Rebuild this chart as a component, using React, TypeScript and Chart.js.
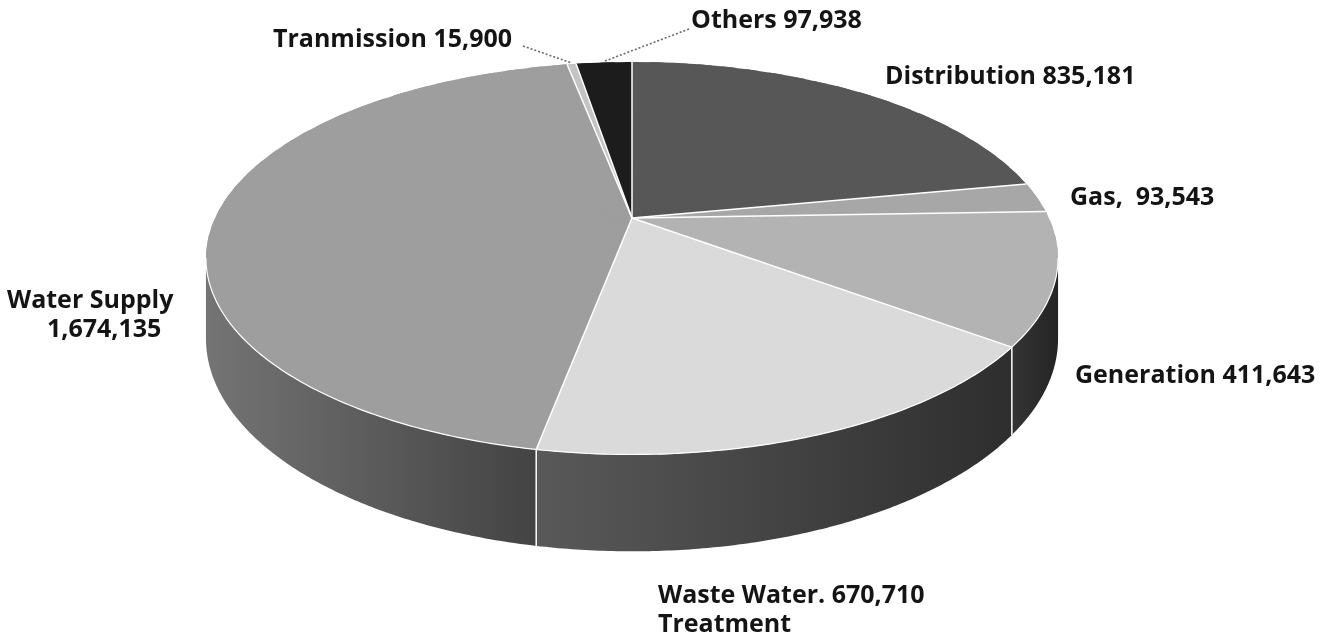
import React, { useEffect, useRef } from "react";
import { Chart, registerables } from "chart.js";

Chart.register(...registerables);

// ---------- data ----------
const categories = [
  "Distribution",
  "Gas",
  "Generation",
  "Waste Water Treatment",
  "Water Supply",
  "Tranmission",
  "Others",
];
const values = [835181, 93543, 411643, 670710, 1674135, 15900, 97938];
const labelLines = [
  ["Distribution {v}"],
  ["Gas,  {v}"],
  ["Generation {v}"],
  ["Waste Water. {v}", "Treatment"],
  ["Water Supply", "{v}"],
  ["Tranmission {v}"],
  ["Others {v}"],
];

// ---------- styles ----------
const topColors = ["#575757", "#a7a7a7", "#b3b3b3", "#dadada", "#9e9e9e", "#c4c4c4", "#1c1c1c"];
const wallColors = [
  ["#3a3a3a", "#2a2a2a"],
  ["#6a6a6a", "#555555"],
  ["#343434", "#242424"],
  ["#595959", "#2e2e2e"],
  ["#747474", "#434343"],
  ["#7a7a7a", "#5a5a5a"],
  ["#1a1a1a", "#111111"],
];
// label placement: x, baseline y, per-line x offsets, optional leader start
const labelLayout = [
  { x: 885, y: 84, dx: [0] },
  { x: 1070, y: 205, dx: [0] },
  { x: 1075, y: 383, dx: [0] },
  { x: 658, y: 603, dx: [0, 0] },
  { x: 7, y: 308, dx: [0, 40] },
  { x: 273, y: 47, dx: [0], leader: [523, 46] },
  { x: 691, y: 28, dx: [0], leader: [689, 29] },
];
const FONT = "bold 25px 'Open Sans', 'Noto Sans', sans-serif";
const LINE_H = 29;

// perspective projection of the pie disc
const CX = 632;
const CY = 218;
const SX = 417;
const SY = 188;
const K = 0.205;
const DEPTH = 77;

function proj(phi: number) {
  const u = Math.cos(phi);
  const v = Math.sin(phi);
  const w = 1 - K * v;
  return { x: CX + (SX * u) / w, y: CY + (SY * v) / w, w };
}

const fmt = (n: number) => n.toLocaleString("en-US");

const pie3d = {
  id: "pie3d",
  beforeDatasetsDraw(chart: any) {
    const ctx: CanvasRenderingContext2D = chart.ctx;
    const arcs = chart.getDatasetMeta(0).data as any[];
    if (!arcs.length) return false;
    const { x: ex, y: ey, outerRadius: R } = arcs[0].getProps(["x", "y", "outerRadius"], true);

    // ---- side walls ----
    const phiR = Math.asin(K);
    const phiL = Math.PI - phiR;
    arcs.forEach((arc: any, i: number) => {
      const { startAngle, endAngle } = arc.getProps(["startAngle", "endAngle"], true);
      const a = Math.max(startAngle, phiR);
      const b = Math.min(endAngle, phiL);
      if (b <= a) return;
      const n = Math.max(2, Math.ceil((b - a) / (Math.PI / 360)));
      ctx.save();
      ctx.beginPath();
      for (let j = 0; j <= n; j++) {
        const p = proj(a + ((b - a) * j) / n);
        if (j === 0) ctx.moveTo(p.x, p.y);
        else ctx.lineTo(p.x, p.y);
      }
      for (let j = n; j >= 0; j--) {
        const p = proj(a + ((b - a) * j) / n);
        ctx.lineTo(p.x, p.y + DEPTH / p.w);
      }
      ctx.closePath();
      const xl = proj(b).x;
      const xr = proj(a).x;
      const g = ctx.createLinearGradient(xl, 0, xr, 0);
      g.addColorStop(0, wallColors[i][0]);
      g.addColorStop(1, wallColors[i][1]);
      ctx.fillStyle = g;
      ctx.fill();
      ctx.restore();
    });
    // wall separators
    ctx.save();
    ctx.strokeStyle = "#ffffff";
    ctx.lineWidth = 1.5;
    arcs.forEach((arc: any) => {
      const { startAngle } = arc.getProps(["startAngle"], true);
      if (startAngle > phiR && startAngle < phiL) {
        const p = proj(startAngle);
        ctx.beginPath();
        ctx.moveTo(p.x, p.y);
        ctx.lineTo(p.x, p.y + DEPTH / p.w);
        ctx.stroke();
      }
    });
    ctx.restore();

    // ---- top face: library arcs drawn through piecewise perspective transforms ----
    const N = 90;
    const step = (Math.PI * 2) / N;
    for (let s = 0; s < N; s++) {
      const p1 = -Math.PI / 2 + s * step;
      const p2 = p1 + step;
      const h1 = proj(p1);
      const h2 = proj(p2);
      const c1 = Math.cos(p1) * R, s1 = Math.sin(p1) * R;
      const c2 = Math.cos(p2) * R, s2 = Math.sin(p2) * R;
      const q00 = h1.x - CX, q01 = h2.x - CX, q10 = h1.y - CY, q11 = h2.y - CY;
      const det = c1 * s2 - c2 * s1;
      const m00 = (q00 * s2 - q01 * s1) / det;
      const m01 = (-q00 * c2 + q01 * c1) / det;
      const m10 = (q10 * s2 - q11 * s1) / det;
      const m11 = (-q10 * c2 + q11 * c1) / det;
      const e = 0.02;
      const k1 = proj(p1 - e);
      const k2 = proj(p2 + e);
      const mid = (p1 + p2) / 2;
      const back = { x: CX - Math.cos(mid) * 5, y: CY - Math.sin(mid) * 5 };
      ctx.save();
      ctx.beginPath();
      ctx.moveTo(back.x, back.y);
      ctx.lineTo(CX + (k1.x - CX) * 1.6, CY + (k1.y - CY) * 1.6);
      ctx.lineTo(CX + (k2.x - CX) * 1.6, CY + (k2.y - CY) * 1.6);
      ctx.closePath();
      ctx.clip();
      ctx.transform(m00, m10, m01, m11, CX - (m00 * ex + m01 * ey), CY - (m10 * ex + m11 * ey));
      arcs.forEach((arc: any) => arc.draw(ctx));
      ctx.restore();
    }

    // top face separators and front rim
    ctx.save();
    ctx.strokeStyle = "#ffffff";
    ctx.lineWidth = 1.5;
    arcs.forEach((arc: any) => {
      const { startAngle } = arc.getProps(["startAngle"], true);
      const p = proj(startAngle);
      ctx.beginPath();
      ctx.moveTo(CX, CY);
      ctx.lineTo(p.x, p.y);
      ctx.stroke();
    });
    ctx.lineWidth = 1.2;
    ctx.beginPath();
    for (let j = 0; j <= 200; j++) {
      const p = proj(phiR + ((phiL - phiR) * j) / 200);
      if (j === 0) ctx.moveTo(p.x, p.y);
      else ctx.lineTo(p.x, p.y);
    }
    ctx.stroke();
    ctx.restore();
    return false;
  },
  afterDraw(chart: any) {
    const ctx: CanvasRenderingContext2D = chart.ctx;
    const arcs = chart.getDatasetMeta(0).data as any[];
    const vals = chart.data.datasets[0].data as number[];
    ctx.save();
    ctx.font = FONT;
    ctx.fillStyle = "#141414";
    ctx.textBaseline = "alphabetic";
    ctx.textAlign = "left";
    labelLines.forEach((lines, i) => {
      const lay: any = labelLayout[i];
      lines.forEach((ln, j) => {
        ctx.fillText(ln.replace("{v}", fmt(vals[i])), lay.x + (lay.dx[j] || 0), lay.y + j * LINE_H);
      });
      if (lay.leader) {
        const { startAngle, endAngle } = arcs[i].getProps(["startAngle", "endAngle"], true);
        const p = proj((startAngle + endAngle) / 2);
        ctx.save();
        ctx.strokeStyle = "#6a6a6a";
        ctx.lineWidth = 1.6;
        ctx.setLineDash([2, 2]);
        ctx.beginPath();
        ctx.moveTo(lay.leader[0], lay.leader[1]);
        ctx.lineTo(p.x, p.y - 1);
        ctx.stroke();
        ctx.restore();
      }
    });
    ctx.restore();
  },
};

export default function App() {
  const ref = useRef<HTMLCanvasElement | null>(null);
  useEffect(() => {
    if (!ref.current) return;
    const chart = new Chart(ref.current, {
      type: "pie",
      data: {
        labels: categories,
        datasets: [
          {
            data: values,
            backgroundColor: topColors,
            borderWidth: 0,
          },
        ],
      },
      options: {
        responsive: false,
        animation: false,
        layout: { padding: 0 },
        plugins: {
          legend: { display: false },
          tooltip: { enabled: false },
        },
      },
      plugins: [pie3d as any],
    });
    return () => chart.destroy();
  }, []);
  return (
    <div style={{ position: "absolute", left: 0, top: 0, width: 1321, height: 635, background: "#ffffff" }}>
      <canvas ref={ref} width={1321} height={635} style={{ display: "block" }} />
    </div>
  );
}
